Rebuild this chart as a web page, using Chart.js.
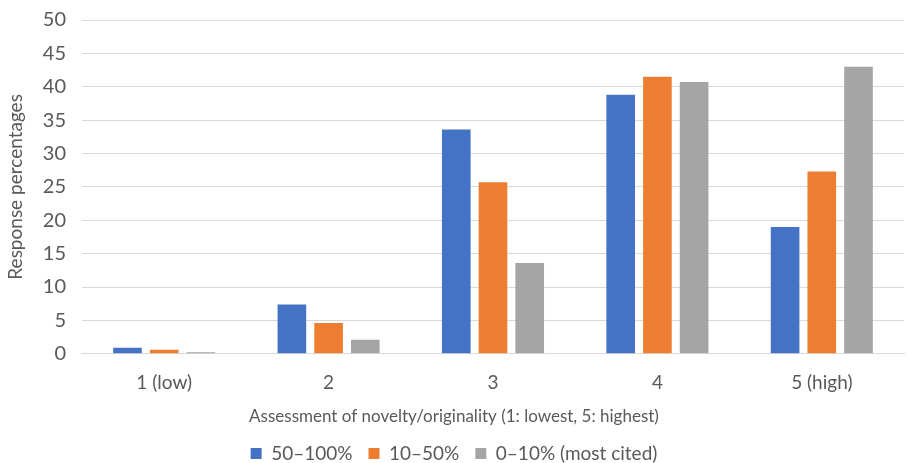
<!DOCTYPE html>
<html>
<head>
<meta charset="utf-8">
<script src="https://cdn.jsdelivr.net/npm/chart.js@4"></script>
<style>
  html, body { margin: 0; padding: 0; background: #ffffff; }
  #wrap { width: 907px; height: 463px; }
</style>
</head>
<body>
<div id="wrap"><canvas id="novelty"></canvas></div>
<script>
var categories = ['1 (low)', '2', '3', '4', '5 (high)'];
var seriesNames = ['50\u2013100%', '10\u201350%', '0\u201310% (most cited)'];
var lowCited = [0.9, 7.4, 33.6, 38.8, 19.0];
var midCited = [0.6, 4.6, 25.7, 41.5, 27.3];
var mostCited = [0.25, 2.1, 13.6, 40.7, 43.0];
var seriesColors = ['#4472C4', '#ED7D31', '#A5A5A5'];

var textColor = '#595959';
var fontFamily = 'Lato, "Open Sans", sans-serif';

// keep the gaps between legend items but drop some empty space under them
var tightLegend = {
	id         : 'tightLegend',
	beforeInit : function(chart) {
		var fit = chart.legend.fit;
		chart.legend.fit = function() {
			fit.call(this);
			this.height -= 10;
		};
	}
};

var config = {
	type    : 'bar',
	data    : {
		labels   : categories,
		datasets : [
			{ label : seriesNames[0], data : lowCited, backgroundColor : seriesColors[0] },
			{ label : seriesNames[1], data : midCited, backgroundColor : seriesColors[1] },
			{ label : seriesNames[2], data : mostCited, backgroundColor : seriesColors[2] }
		]
	},
	plugins : [tightLegend],
	options : {
		responsive          : true,
		maintainAspectRatio : false,
		animation           : false,
		categoryPercentage  : 0.67,
		barPercentage       : 0.78,
		layout  : {
			padding : { top : 0, right : 3, left : 4, bottom : 0 }
		},
		plugins : {
			// x axis title as the chart title so it is centred on the whole page, between axis and legend
			title   : {
				display  : true,
				position : 'bottom',
				weight   : 500,
				text     : 'Assessment of novelty/originality (1: lowest, 5: highest)',
				color    : textColor,
				padding  : { top : -6, bottom : 1 },
				font     : { family : fontFamily, size : 17, weight : 'normal' }
			},
			legend  : {
				position : 'bottom',
				labels   : {
					boxWidth  : 11,
					boxHeight : 11,
					padding   : 16,
					color     : textColor,
					font      : { family : fontFamily, size : 19 }
				}
			},
			tooltip : { enabled : false }
		},
		scales  : {
			x : {
				grid   : { display : false, drawTicks : false },
				border : { color : '#D9D9D9' },
				ticks  : { color : textColor, padding : 18, font : { family : fontFamily, size : 19 } }
			},
			y : {
				min    : 0,
				max    : 50,
				grid   : { color : '#D9D9D9', drawTicks : false },
				border : { display : false },
				ticks  : { stepSize : 5, color : textColor, padding : 16, font : { family : fontFamily, size : 20 } },
				title  : {
					display : true,
					text    : 'Response percentages',
					color   : textColor,
					padding : { top : 0, bottom : 0 },
					font    : { family : fontFamily, size : 19 }
				},
				afterFit : function(scale) {
					scale.paddingTop = 20;
				}
			}
		}
	}
};

window.onload = function() {
	var ctx = document.getElementById('novelty').getContext('2d');
	window.noveltyChart = new Chart(ctx, config);
};
</script>
</body>
</html>
